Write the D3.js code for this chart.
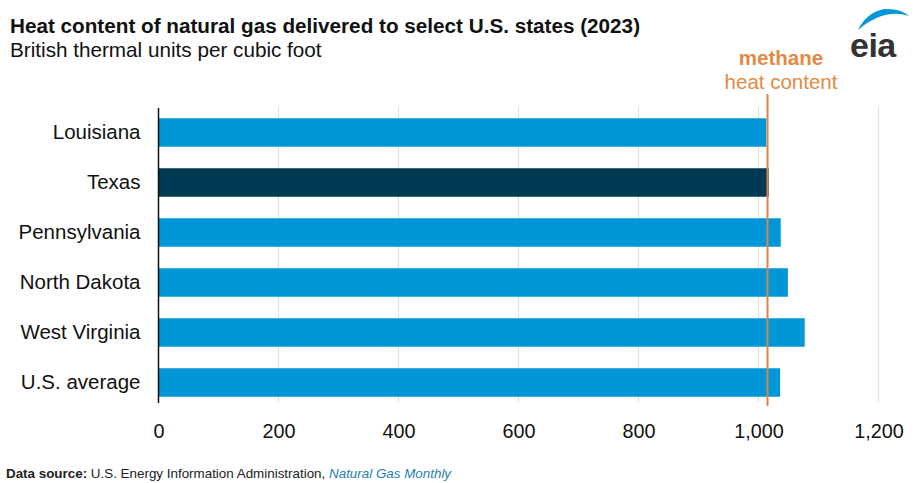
<!DOCTYPE html>
<html><head><meta charset="utf-8">
<script src="https://cdn.jsdelivr.net/npm/d3@7"></script>
<style>body{margin:0;background:#fff;} svg{display:block;font-family:Arial,"Liberation Sans",sans-serif;}</style>
</head><body>
<svg id="c" width="915" height="483"></svg>
<script>
const categories = ["Louisiana","Texas","Pennsylvania","North Dakota","West Virginia","U.S. average"];
const values = [1013, 1017, 1037, 1049, 1077, 1036];
const highlight = ["Texas"];
const methaneValue = 1015;
const xTicks = [0,200,400,600,800,1000,1200];

const svg = d3.select("#c");
const x = d3.scaleLinear().domain([0,1200]).range([158.5, 878.5]);
const y = d3.scaleBand().domain(categories).range([107.5, 407.5]).paddingInner(0.43).paddingOuter(0.215);

// gridlines
svg.append("g").selectAll("line").data(xTicks.filter(d=>d>0)).join("line")
  .attr("x1",d=>x(d)).attr("x2",d=>x(d)).attr("y1",107).attr("y2",402)
  .attr("stroke","#dcdcdc").attr("stroke-width",1);

// bars
svg.append("g").selectAll("rect").data(categories).join("rect")
  .attr("x",x(0)).attr("y",d=>y(d)).attr("height",y.bandwidth())
  .attr("width",(d,i)=>x(values[i])-x(0))
  .attr("fill",d=>highlight.includes(d)?"#003953":"#0096d7");

// x axis labels
const xa = svg.append("g").attr("transform","translate(0,402)")
  .call(d3.axisBottom(x).tickValues(xTicks).tickSize(0).tickPadding(22).tickFormat(d3.format(",")));
xa.select(".domain").remove();
xa.selectAll("text").attr("font-size","19.8px").attr("fill","#111").attr("font-family","Arial,'Liberation Sans',sans-serif");

// y axis labels
const ya = svg.append("g").attr("transform","translate(158.5,0)")
  .call(d3.axisLeft(y).tickSize(0).tickPadding(18));
ya.select(".domain").remove();
ya.selectAll("text").attr("font-size","20.5px").attr("fill","#111").attr("font-family","Arial,'Liberation Sans',sans-serif");

// baseline axis
svg.append("line").attr("x1",x(0)).attr("x2",x(0)).attr("y1",108).attr("y2",403)
  .attr("stroke","#111").attr("stroke-width",1.5);

// methane line
svg.append("line").attr("x1",x(methaneValue)).attr("x2",x(methaneValue)).attr("y1",94).attr("y2",406)
  .attr("stroke","#d9844a").attr("stroke-width",2);
svg.append("text").attr("x",781).attr("y",65).attr("text-anchor","middle")
  .attr("font-size","20.5px").attr("font-weight","bold").attr("fill","#e08a45").text("methane");
svg.append("text").attr("x",781).attr("y",89).attr("text-anchor","middle")
  .attr("font-size","20.5px").attr("fill","#e08a45").text("heat content");

// titles
svg.append("text").attr("x",10).attr("y",33).attr("font-size","20.7px").attr("font-weight","bold").attr("fill","#111")
  .text("Heat content of natural gas delivered to select U.S. states (2023)");
svg.append("text").attr("x",10).attr("y",57).attr("font-size","20.7px").attr("fill","#111")
  .text("British thermal units per cubic foot");

// footer
const f = svg.append("text").attr("x",6).attr("y",478).attr("font-size","13.4px").attr("fill","#222");
f.append("tspan").attr("font-weight","bold").text("Data source: ");
f.append("tspan").text("U.S. Energy Information Administration, ");
f.append("tspan").attr("font-style","italic").attr("fill","#1f7fae").text("Natural Gas Monthly");

// eia logo
svg.append("path").attr("d","M858,30 Q884,8 909,16 Q900,8 884,9 Q866,13 858,30 Z").attr("fill","#0096d7");
svg.append("text").attr("x",850).attr("y",57).attr("font-size","34px").attr("font-weight","bold")
  .attr("fill","#333").attr("letter-spacing","-0.5").text("eia");
</script>
</body></html>
